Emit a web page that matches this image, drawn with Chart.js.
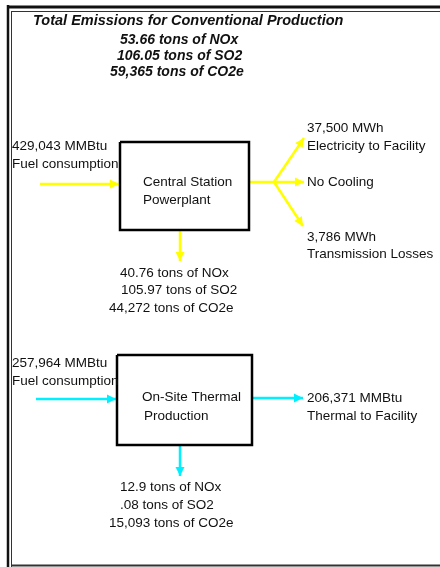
<!DOCTYPE html>
<html>
<head>
  <title>Emissions flow</title>
  <script src="https://cdn.jsdelivr.net/npm/chart.js"></script>
  <style>
    html, body { margin: 0; padding: 0; background: #fff; }
    #wrap { width: 440px; height: 567px; }
  </style>
</head>
<body>
  <div id="wrap"><canvas id="flow"></canvas></div>
<script>
  // texts
  var titleLines = ["Total Emissions for Conventional Production", "53.66 tons of NOx", "106.05 tons of SO2", "59,365 tons of CO2e"];
  var powerIn = ["429,043 MMBtu", "Fuel consumption"];
  var powerName = ["Central Station", "Powerplant"];
  var powerOut = ["37,500 MWh", "Electricity to Facility", "No Cooling", "3,786 MWh", "Transmission Losses"];
  var powerEmis = ["40.76 tons of NOx", "105.97 tons of SO2", "44,272 tons of CO2e"];
  var thermalIn = ["257,964 MMBtu", "Fuel consumption"];
  var thermalName = ["On-Site Thermal", "Production"];
  var thermalOut = ["206,371 MMBtu", "Thermal to Facility"];
  var thermalEmis = ["12.9 tons of NOx", ".08 tons of SO2", "15,093 tons of CO2e"];

  // layout in axis units (x 0..440, y 0..567 top-down)
  var titleAt = [[33, 21], [120, 40], [117, 56], [110, 72]];
  var powerInAt = [[12, 146], [12, 164]];
  var powerNameAt = [[143, 182], [143, 200]];
  var powerOutAt = [[307, 128], [307, 146], [307, 182], [307, 237], [307, 254]];
  var powerEmisAt = [[120, 273], [121, 290], [109, 308]];
  var thermalInAt = [[12, 363], [12, 381]];
  var thermalNameAt = [[142, 397], [144, 416]];
  var thermalOutAt = [[307, 398], [307, 416]];
  var thermalEmisAt = [[120, 487], [120, 505], [109, 523]];

  var powerBox = [120, 142, 249, 230];
  var thermalBox = [117, 355, 252, 445];
  // [x0, y0, x1, y1, head?]
  var powerArrows = [[40, 184, 119, 184, 1], [249, 182, 274, 182, 0], [274, 182, 304, 138, 1], [274, 182, 304, 182, 1], [274, 182, 303, 226, 1], [180, 231, 180, 261, 1]];
  var thermalArrows = [[36, 399, 116, 399, 1], [253, 398, 303, 398, 1], [180, 446, 180, 476, 1]];
  var frameLines = [[8, 5, 8, 567, 2.5, "#111"], [11.5, 11, 11.5, 567, 1, "#333"], [8, 7, 440, 7, 3, "#111"], [11, 11.5, 440, 11.5, 1, "#333"], [11, 565.5, 440, 565.5, 2, "#333"]];

  var YELLOW = "#ffff00";
  var CYAN = "#00f0ff";
  var FONT = "13.5px 'Liberation Sans', Arial";

  function seg(a, color, width) {
    return { data: [{ x: a[0], y: a[1] }, { x: a[2], y: a[3] }], borderColor: color, borderWidth: width, pointRadius: 0, showLine: true, head: a[4] == 1 };
  }
  function box(b) {
    return { data: [{ x: b[0], y: b[1] }, { x: b[2], y: b[1] }, { x: b[2], y: b[3] }, { x: b[0], y: b[3] }, { x: b[0], y: b[1] }],
      borderColor: "#000", borderWidth: 2.5, pointRadius: 0, showLine: true, borderJoinStyle: "miter" };
  }

  var datasets = [];
  frameLines.forEach(function (f) { datasets.push(seg([f[0], f[1], f[2], f[3], 0], f[5], f[4])); });
  datasets.push(box(powerBox));
  datasets.push(box(thermalBox));
  powerArrows.forEach(function (a) { datasets.push(seg(a, YELLOW, 2.5)); });
  thermalArrows.forEach(function (a) { datasets.push(seg(a, CYAN, 2.5)); });

  var textGroups = [
    [titleLines.slice(0, 1), titleAt.slice(0, 1), "italic bold 14.5px 'Liberation Sans', Arial"],
    [titleLines.slice(1), titleAt.slice(1), "italic bold 14px 'Liberation Sans', Arial"],
    [powerIn, powerInAt, FONT],
    [powerName, powerNameAt, FONT],
    [powerOut, powerOutAt, FONT],
    [powerEmis, powerEmisAt, FONT],
    [thermalIn, thermalInAt, FONT],
    [thermalName, thermalNameAt, FONT],
    [thermalOut, thermalOutAt, FONT],
    [thermalEmis, thermalEmisAt, FONT]
  ];

  var flowPlugin = {
    id: "flowPlugin",
    afterDatasetsDraw: function (chart) {
      var ctx = chart.ctx;
      var sx = chart.scales.x, sy = chart.scales.y;
      // arrow heads
      chart.data.datasets.forEach(function (ds) {
        if (!ds.head) return;
        var p0 = ds.data[0], p1 = ds.data[1];
        var x0 = sx.getPixelForValue(p0.x), y0 = sy.getPixelForValue(p0.y);
        var x1 = sx.getPixelForValue(p1.x), y1 = sy.getPixelForValue(p1.y);
        var ang = Math.atan2(y1 - y0, x1 - x0);
        var len = 9, half = 4.5;
        ctx.save();
        ctx.fillStyle = ds.borderColor;
        ctx.beginPath();
        ctx.moveTo(x1, y1);
        ctx.lineTo(x1 - len * Math.cos(ang) + half * Math.sin(ang), y1 - len * Math.sin(ang) - half * Math.cos(ang));
        ctx.lineTo(x1 - len * Math.cos(ang) - half * Math.sin(ang), y1 - len * Math.sin(ang) + half * Math.cos(ang));
        ctx.closePath();
        ctx.fill();
        ctx.restore();
      });
      // texts
      ctx.save();
      ctx.fillStyle = "#111";
      ctx.textAlign = "left";
      ctx.textBaseline = "middle";
      textGroups.forEach(function (g) {
        ctx.font = g[2];
        g[0].forEach(function (t, i) {
          ctx.fillText(t, sx.getPixelForValue(g[1][i][0]), sy.getPixelForValue(g[1][i][1]));
        });
      });
      ctx.restore();
    }
  };

  new Chart(document.getElementById("flow"), {
    type: "scatter",
    data: { datasets: datasets },
    options: {
      responsive: true,
      maintainAspectRatio: false,
      animation: false,
      layout: { padding: 0 },
      plugins: { legend: { display: false }, tooltip: { enabled: false } },
      scales: {
        x: { type: "linear", min: 0, max: 440, display: false },
        y: { type: "linear", min: 0, max: 567, reverse: true, display: false }
      }
    },
    plugins: [flowPlugin]
  });
</script>
</body>
</html>
